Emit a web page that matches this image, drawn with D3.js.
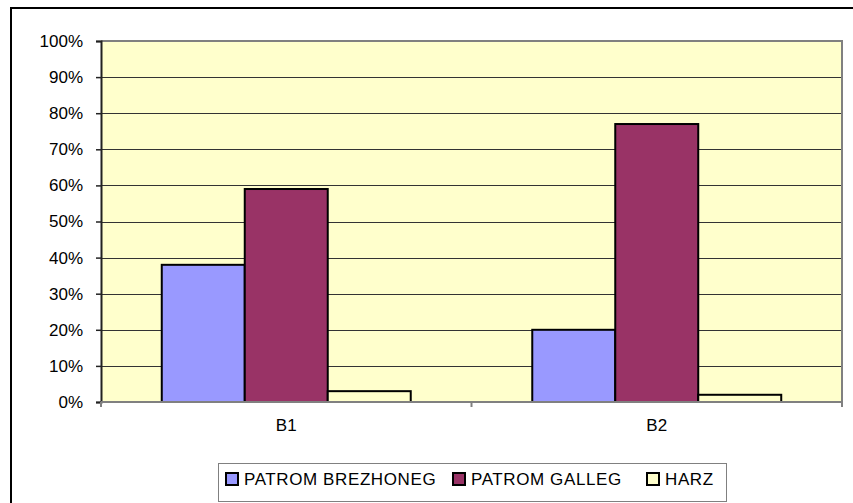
<!DOCTYPE html>
<html>
<head>
<meta charset="utf-8">
<script src="https://cdn.jsdelivr.net/npm/d3@7"></script>
<style>
  body { margin: 0; background: #fff; }
  svg { display: block; font-family: 'Liberation Sans', Arial, sans-serif; }
</style>
</head>
<body>
<svg id="chart" width="853" height="503"></svg>
<script>
// data
const categories = ['B1', 'B2'];
const seriesNames = ['PATROM BREZHONEG', 'PATROM GALLEG', 'HARZ'];
const seriesColors = ['#9999ff', '#993366', '#ffffcc'];
const brezhoneg = [0.38, 0.20];
const galleg = [0.59, 0.77];
const harz = [0.03, 0.02];
const yTicks = [0, 0.1, 0.2, 0.3, 0.4, 0.5, 0.6, 0.7, 0.8, 0.9, 1];

const seriesValues = [brezhoneg, galleg, harz];
const width = 853, height = 503;
const margin = { top: 41, right: 11, bottom: 101, left: 101 };

const svg = d3.select('#chart');

// outer chart frame (runs off the right and bottom of the picture)
svg.append('rect')
  .attr('x', 11).attr('y', 8)
  .attr('width', 900).attr('height', 600)
  .attr('fill', '#fff')
  .attr('stroke', '#000')
  .attr('stroke-width', 2);

const x = d3.scaleBand()
  .domain(categories)
  .range([margin.left, width - margin.right])
  .paddingInner(0.328)
  .paddingOuter(0.164);

const xs = d3.scaleBand()
  .domain(d3.range(seriesNames.length))
  .range([0, x.bandwidth()]);

const y = d3.scaleLinear()
  .domain([0, 1])
  .range([height - margin.bottom, margin.top]);

const x0 = margin.left, x1 = width - margin.right;

// plot background
svg.append('rect')
  .attr('x', x0).attr('y', y(1))
  .attr('width', x1 - x0).attr('height', y(0) - y(1))
  .attr('fill', '#ffffcc');

// gridlines
svg.append('g')
  .selectAll('line')
  .data(yTicks.slice(1))
  .join('line')
  .attr('x1', x0).attr('x2', x1)
  .attr('y1', (d) => Math.round(y(d)) + 0.5)
  .attr('y2', (d) => Math.round(y(d)) + 0.5)
  .attr('stroke', '#333')
  .attr('stroke-width', 1);

// top and right border of plot area
svg.append('path')
  .attr('d', `M${x0},${y(1)}H${x1}V${y(0)}`)
  .attr('fill', 'none')
  .attr('stroke', '#808080')
  .attr('stroke-width', 2);

// bars
const rows = categories.map((c, i) => ({
  cat: c,
  vals: seriesValues.map((s, j) => ({ j, v: s[i] })),
}));

svg.append('g')
  .selectAll('g')
  .data(rows)
  .join('g')
  .attr('transform', (d) => `translate(${x(d.cat)},0)`)
  .selectAll('rect')
  .data((d) => d.vals)
  .join('rect')
  .attr('x', (d) => xs(d.j))
  .attr('y', (d) => y(d.v))
  .attr('width', xs.bandwidth())
  .attr('height', (d) => y(0) - y(d.v))
  .attr('fill', (d) => seriesColors[d.j])
  .attr('stroke', '#000')
  .attr('stroke-width', 2);

// y axis
const yAxis = d3.axisLeft(y)
  .tickValues(yTicks)
  .tickFormat(d3.format('.0%'))
  .tickSize(5)
  .tickPadding(13);
const gy = svg.append('g')
  .attr('transform', `translate(${x0},0)`)
  .call(yAxis);
gy.select('.domain').attr('stroke', '#222').attr('stroke-width', 2);
gy.selectAll('.tick line').attr('stroke', '#222').attr('stroke-width', 1.5);
gy.selectAll('text').attr('font-size', 17).attr('fill', '#000')
  .attr('font-family', "'Liberation Sans', Arial, sans-serif");

// x axis
const xAxis = d3.axisBottom(x).tickSize(0).tickPadding(17);
const gx = svg.append('g')
  .attr('transform', `translate(0,${y(0)})`)
  .call(xAxis);
gx.select('.domain').attr('stroke', '#808080').attr('stroke-width', 2)
  .attr('d', `M${x0},0H${x1}`);
gx.selectAll('text').attr('font-size', 17).attr('fill', '#000')
  .attr('font-family', "'Liberation Sans', Arial, sans-serif");

// category boundary ticks
const bounds = [x0].concat(categories.map((c) => x(c) + x.bandwidth() + x.step() * x.paddingInner() / 2));
gx.selectAll('.bound')
  .data(bounds)
  .join('line')
  .attr('class', 'bound')
  .attr('x1', (d) => d).attr('x2', (d) => d)
  .attr('y1', 0).attr('y2', 5)
  .attr('stroke', '#808080')
  .attr('stroke-width', 2);

// legend
const legend = svg.append('g');
legend.append('rect')
  .attr('x', 218.5).attr('y', 463.5)
  .attr('width', 508).attr('height', 38)
  .attr('fill', '#fff')
  .attr('stroke', '#808080')
  .attr('stroke-width', 1);

const legendX = [225, 452, 646];
const items = legend.selectAll('g.item')
  .data(seriesNames)
  .join('g')
  .attr('class', 'item')
  .attr('transform', (d, i) => `translate(${legendX[i]},472)`);
items.append('rect')
  .attr('x', 1).attr('y', 1)
  .attr('width', 12).attr('height', 12)
  .attr('fill', (d, i) => seriesColors[i])
  .attr('stroke', '#000')
  .attr('stroke-width', 2);
items.append('text')
  .attr('x', 19).attr('y', 13)
  .attr('font-size', 17)
  .attr('letter-spacing', 0.6)
  .text((d) => d);
</script>
</body>
</html>
